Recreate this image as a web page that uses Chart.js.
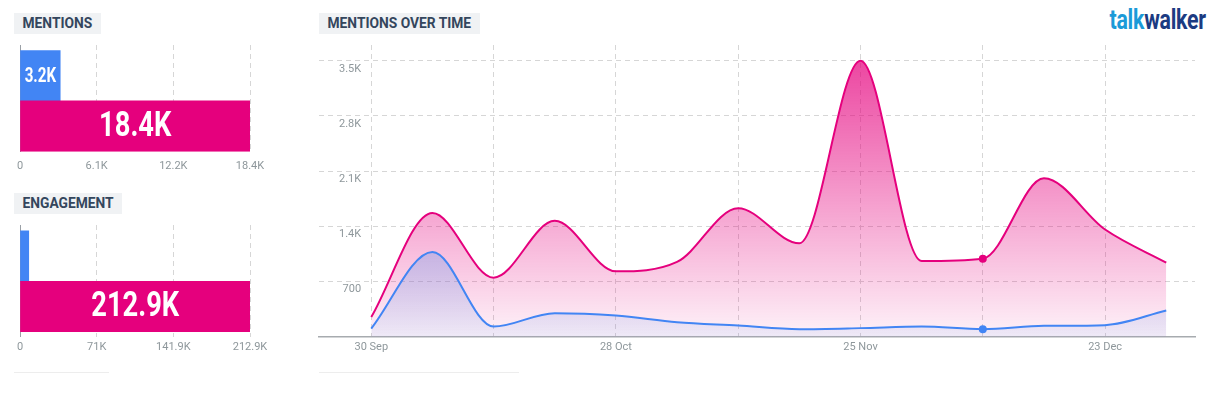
<!DOCTYPE html>
<html>
<head>
<meta charset="utf-8">
<title>Mentions</title>
<script src="https://cdn.jsdelivr.net/npm/chart.js@4.4.1/dist/chart.umd.min.js"></script>
<style>
  body { margin: 0; background: #fff; font-family: Roboto, sans-serif; }
  #page { position: relative; width: 1216px; height: 394px; overflow: hidden; }
  .title { position: absolute; background: #f0f2f4; color: #34465d; font-weight: bold; font-size: 13.8px;
           height: 21px; line-height: 21px; padding: 0 8.5px; }
  canvas { position: absolute; }
  .rule { position: absolute; height: 1px; background: #ededed; }
  .logo { position: absolute; right: 10px; top: 2px; font-family: Roboto, sans-serif; line-height: 36px;
          font-weight: bold; font-size: 28px; letter-spacing: -0.3px; transform: scaleX(0.76); transform-origin: right center; }
  .logo .a { color: #1b9ad8; }
  .logo .b { color: #1c3b82; }
</style>
</head>
<body>
<div id="page">
  <div class="title" style="left:14px; top:13px;">MENTIONS</div>
  <div class="title" style="left:14px; top:193px;">ENGAGEMENT</div>
  <div class="title" style="left:319px; top:13px;">MENTIONS OVER TIME</div>
  <div class="logo"><span class="a">talk</span><span class="b">walker</span></div>

  <canvas id="mentionsBar" width="290" height="142" style="left:0; top:40px;"></canvas>
  <canvas id="engagementBar" width="290" height="140" style="left:0; top:220px;"></canvas>
  <canvas id="overTime" width="916" height="320" style="left:300px; top:40px;"></canvas>

  <div class="rule" style="left:14px; top:372px; width:95px;"></div>
  <div class="rule" style="left:319px; top:372px; width:200px;"></div>
</div>

<script>
// data
let barColors = ['#4285f4', '#e5007d'];
let mentionTotals = [3210, 18360];
let engagementTotals = [8100, 212900];

let weeks = ['30 Sep', '7 Oct', '14 Oct', '21 Oct', '28 Oct', '4 Nov', '11 Nov', '18 Nov',
             '25 Nov', '2 Dec', '9 Dec', '16 Dec', '23 Dec', '30 Dec'];
let pinkMentions = [250, 1570, 750, 1470, 830, 950, 1630, 1185, 3500, 960, 990, 2010, 1360, 940];
let blueMentions = [105, 1075, 130, 300, 270, 186, 143, 97, 110, 130, 97, 139, 148, 333];
let yTicks = [700, 1400, 2100, 2800, 3500];
let markedWeek = 10;

Chart.defaults.font.family = 'Roboto, sans-serif';
Chart.defaults.font.size = 11;
Chart.defaults.color = '#8e979b';

let gridColor = '#d6d6d6';

function formatK(v) {
  if (v < 1000) return String(Math.round(v));
  let s = (v / 1000).toFixed(1);
  if (s.slice(-2) === '.0') s = s.slice(0, -2);
  return s + 'K';
}

// white value text inside the bars (condensed look by squeezing Roboto)
let barLabels = {
  id: 'barLabels',
  afterDatasetsDraw: function(chart) {
    let ctx = chart.ctx;
    let meta = chart.getDatasetMeta(0);
    meta.data.forEach(function(bar, i) {
      let w = bar.x - bar.base;
      if (w < 25) return;
      let size = Math.min(35, w * 0.49);
      ctx.save();
      ctx.translate((bar.x + bar.base) / 2, bar.y + 1);
      ctx.scale(0.78, 1);
      ctx.fillStyle = '#fff';
      ctx.font = 'bold ' + size + 'px Roboto, sans-serif';
      ctx.textAlign = 'center';
      ctx.textBaseline = 'middle';
      ctx.fillText(formatK(chart.data.datasets[0].data[i].x), 0, 0);
      ctx.restore();
    });
  }
};

function makeBarChart(id, values, yMin, yMax, tickPad, bottomPad) {
  let maxVal = values[values.length - 1];
  return new Chart(document.getElementById(id), {
    type: 'bar',
    data: {
      datasets: [{
        data: values.map(function(v, i) { return {x: v, y: i + 1}; }),
        backgroundColor: barColors,
        barThickness: 50.5
      }]
    },
    options: {
      indexAxis: 'y',
      responsive: false,
      animation: false,
      events: [],
      layout: {padding: {top: 5, left: 20, right: 40, bottom: bottomPad}},
      plugins: {legend: {display: false}, tooltip: {enabled: false}},
      scales: {
        x: {
          type: 'linear',
          min: 0,
          max: maxVal,
          afterBuildTicks: function(scale) {
            scale.ticks = [0, 1, 2, 3].map(function(i) { return {value: maxVal * i / 3}; });
          },
          ticks: {padding: tickPad, maxRotation: 0, autoSkip: false, callback: function(v) { return formatK(v); }},
          grid: {color: gridColor, drawTicks: false},
          border: {display: false, dash: [5, 4]}
        },
        y: {
          type: 'linear',
          reverse: true,
          offset: false,
          min: yMin,
          max: yMax,
          afterBuildTicks: function(scale) {
            scale.ticks = [{value: 1}, {value: 2}];
          },
          ticks: {display: false},
          grid: {display: false, drawTicks: false, offset: false},
          border: {display: true, color: '#9aa0a6'}
        }
      }
    },
    plugins: [barLabels]
  });
}

makeBarChart('mentionsBar', mentionTotals, 0.39, 2.51, 8, 1);
makeBarChart('engagementBar', engagementTotals, 0.386, 2.6, 4, 2);

function vGradient(chart, stops) {
  let area = chart.chartArea;
  if (!area) return stops[0][1];
  let g = chart.ctx.createLinearGradient(0, area.top, 0, area.bottom);
  stops.forEach(function(s) { g.addColorStop(s[0], s[1]); });
  return g;
}

function pointsOf(values) {
  return values.map(function(v, i) { return {x: i, y: v}; });
}

let overTime = new Chart(document.getElementById('overTime'), {
  type: 'line',
  data: {
    datasets: [{
      label: 'blue',
      data: pointsOf(blueMentions),
      borderColor: barColors[0],
      borderWidth: 2,
      cubicInterpolationMode: 'monotone',
      fill: 'origin',
      backgroundColor: function(ctx) {
        return vGradient(ctx.chart, [[0, 'rgba(110,160,235,0.55)'], [0.65, 'rgba(110,160,235,0.42)'], [1, 'rgba(110,160,235,0.1)']]);
      },
      pointRadius: function(ctx) { return ctx.dataIndex === markedWeek ? 4 : 0; },
      pointBackgroundColor: barColors[0],
      pointBorderColor: barColors[0],
      pointBorderWidth: 0
    }, {
      label: 'pink',
      data: pointsOf(pinkMentions),
      borderColor: barColors[1],
      borderWidth: 2,
      cubicInterpolationMode: 'monotone',
      fill: 'origin',
      backgroundColor: function(ctx) {
        return vGradient(ctx.chart, [[0, 'rgba(229,0,125,0.76)'], [1, 'rgba(229,0,125,0.05)']]);
      },
      pointRadius: function(ctx) { return ctx.dataIndex === markedWeek ? 4 : 0; },
      pointBackgroundColor: barColors[1],
      pointBorderColor: barColors[1],
      pointBorderWidth: 0
    }]
  },
  options: {
    responsive: false,
    animation: false,
    events: [],
    layout: {padding: {top: 5, left: 19, right: 21, bottom: 2}},
    plugins: {legend: {display: false}, tooltip: {enabled: false}},
    scales: {
      x: {
        type: 'linear',
        min: -0.855,
        max: 13.47,
        afterBuildTicks: function(scale) {
          let t = [];
          for (let i = 0; i < weeks.length; i += 2) t.push({value: i});
          scale.ticks = t;
        },
        ticks: {
          padding: 4, maxRotation: 0, autoSkip: false,
          callback: function(v) { return v % 4 === 0 ? weeks[v] : ''; }
        },
        grid: {color: gridColor, drawTicks: false},
        border: {display: true, color: '#a7abaf', width: 1.5, dash: [5, 4]}
      },
      y: {
        min: 0,
        max: 3700,
        afterBuildTicks: function(scale) {
          scale.ticks = yTicks.map(function(v) { return {value: v}; });
        },
        afterFit: function(scale) {
          // labels sit inside the plot, so the axis takes no room
          scale.width = 0;
          scale.paddingTop = 0;
          scale.paddingBottom = 0;
        },
        ticks: {
          mirror: true, crossAlign: 'far', padding: 20, labelOffset: 8,
          callback: function(v) { return formatK(v); }
        },
        grid: {color: gridColor, drawTicks: false},
        border: {display: false, dash: [5, 4]}
      }
    }
  }
});
</script>
</body>
</html>
